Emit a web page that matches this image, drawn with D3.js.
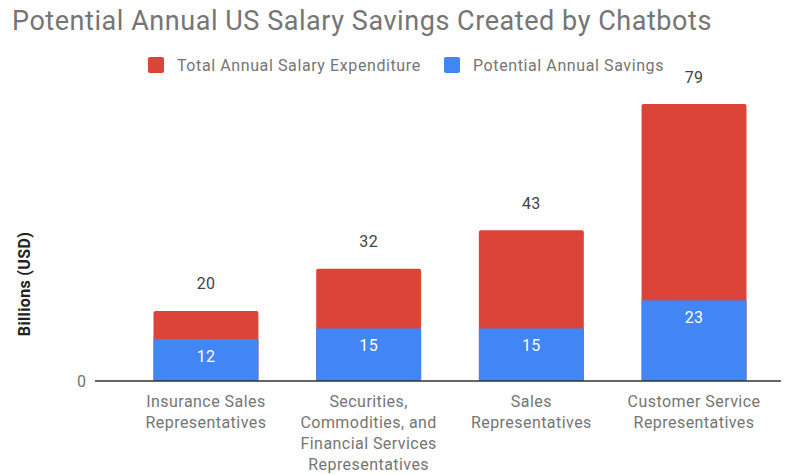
<!DOCTYPE html>
<html>
<head>
<meta charset="utf-8">
<script src="https://cdn.jsdelivr.net/npm/d3@7"></script>
<style>
  body { margin: 0; background: #fff; }
  svg { font-family: Roboto, sans-serif; }
</style>
</head>
<body>
<svg id="chart" width="792" height="475"></svg>
<script>
// data
var categories = [
  ["Insurance Sales", "Representatives"],
  ["Securities,", "Commodities, and", "Financial Services", "Representatives"],
  ["Sales", "Representatives"],
  ["Customer Service", "Representatives"]
];
var totalExpenditure = [20, 32, 43, 79];
var potentialSavings = [12, 15, 15, 23];
var seriesNames = ["Total Annual Salary Expenditure", "Potential Annual Savings"];
var yTicks = [0];

var RED = "#db4437", BLUE = "#4285f4";

var svg = d3.select("#chart");

var x = d3.scaleBand()
    .domain(d3.range(categories.length))
    .range([124.6, 775.4])
    .paddingInner(0.355)
    .paddingOuter(0.1775);

var y = d3.scaleLinear().domain([0, 80]).range([381, 100.5]);

// title
svg.append("text")
    .attr("x", 12).attr("y", 30)
    .style("font-size", "27px")
    .style("letter-spacing", "0.55px")
    .style("fill", "#757575")
    .text("Potential Annual US Salary Savings Created by Chatbots");

// legend
var legend = svg.append("g");
var legendX = [148, 444];
var legendColors = [RED, BLUE];
seriesNames.forEach(function(name, i) {
    var g = legend.append("g").attr("transform", `translate(${legendX[i]}, 57)`);
    g.append("rect")
        .attr("width", 16).attr("height", 16)
        .attr("rx", 2)
        .attr("fill", legendColors[i]);
    g.append("text")
        .attr("x", 29).attr("y", 8)
        .attr("dy", "0.35em")
        .style("font-size", "16px")
        .style("letter-spacing", "0.6px")
        .style("fill", "#757575")
        .text(name);
});

// y axis label
svg.append("text")
    .attr("transform", "translate(24, 284) rotate(-90)")
    .attr("text-anchor", "middle")
    .attr("dy", "0.35em")
    .style("font-size", "16px")
    .style("letter-spacing", "0.35px")
    .style("font-weight", "bold")
    .style("fill", "#222")
    .text("Billions (USD)");

// y tick labels
svg.selectAll(".ytick")
    .data(yTicks)
    .enter().append("text")
    .attr("class", "ytick")
    .attr("x", 86).attr("y", d => y(d))
    .attr("dy", "0.35em")
    .attr("text-anchor", "end")
    .style("font-size", "16px")
    .style("fill", "#757575")
    .text(d => d);

// bars: total behind, savings in front
var bars = svg.append("g");
bars.selectAll(".total")
    .data(totalExpenditure)
    .enter().append("rect")
    .attr("class", "total")
    .attr("x", (d, i) => x(i))
    .attr("width", x.bandwidth())
    .attr("y", d => y(d))
    .attr("height", d => y(0) - y(d))
    .attr("rx", 2)
    .attr("fill", RED);

bars.selectAll(".saving")
    .data(potentialSavings)
    .enter().append("rect")
    .attr("class", "saving")
    .attr("x", (d, i) => x(i))
    .attr("width", x.bandwidth())
    .attr("y", d => y(d))
    .attr("height", d => y(0) - y(d))
    .attr("fill", BLUE);

// value labels
svg.selectAll(".totLabel")
    .data(totalExpenditure)
    .enter().append("text")
    .attr("class", "totLabel")
    .attr("x", (d, i) => x(i) + x.bandwidth() / 2)
    .attr("y", d => y(d) - 27)
    .attr("dy", "0.35em")
    .attr("text-anchor", "middle")
    .style("font-size", "16px")
    .style("letter-spacing", "0.3px")
    .style("fill", "#444")
    .text(d => d);

svg.selectAll(".savLabel")
    .data(potentialSavings)
    .enter().append("text")
    .attr("class", "savLabel")
    .attr("x", (d, i) => x(i) + x.bandwidth() / 2)
    .attr("y", d => y(d) + 17)
    .attr("dy", "0.35em")
    .attr("text-anchor", "middle")
    .style("font-size", "16px")
    .style("letter-spacing", "0.3px")
    .style("fill", "#fff")
    .text(d => d);

// baseline
svg.append("line")
    .attr("x1", 95).attr("x2", 781)
    .attr("y1", y(0)).attr("y2", y(0))
    .attr("stroke", "#333")
    .attr("stroke-width", 1.5);

// category labels
var catG = svg.selectAll(".cat")
    .data(categories)
    .enter().append("text")
    .attr("class", "cat")
    .attr("text-anchor", "middle")
    .style("font-size", "16px")
    .style("letter-spacing", "0.45px")
    .style("fill", "#757575");
catG.selectAll("tspan")
    .data((d, i) => d.map(line => ({line: line, i: i})))
    .enter().append("tspan")
    .attr("x", d => x(d.i) + x.bandwidth() / 2)
    .attr("y", (d, j) => 401 + j * 21)
    .attr("dy", "0.35em")
    .text(d => d.line);
</script>
</body>
</html>
